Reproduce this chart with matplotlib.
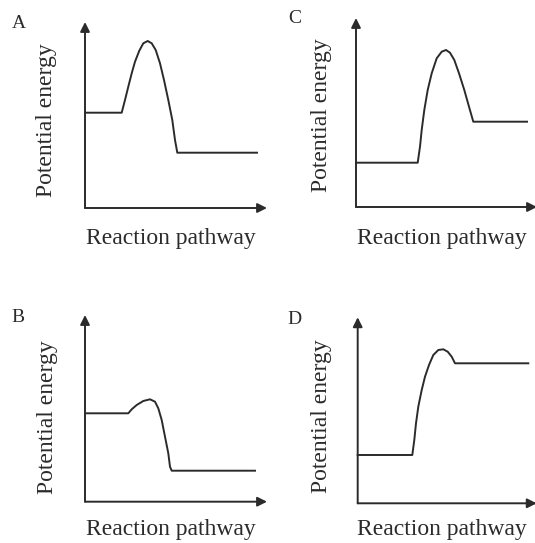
import matplotlib
matplotlib.use("Agg")
import matplotlib.pyplot as plt

# ---------------- data ----------------
panel_labels = ["A", "C", "B", "D"]
x_label = "Reaction pathway"
y_label = "Potential energy"

A_path = [0, 36.7, 40, 43.3, 46.7, 50, 54.3, 58.3, 62.7, 66.7, 70.7, 75, 79, 83.3, 87.3, 90, 92.3, 172]
A_energy = [95.3, 95.3, 108, 121.3, 134.7, 146.3, 157.3, 164.7, 167, 164.7, 158, 144.7, 128, 108, 88, 68, 55.3, 55.3]

C_path = [0, 61.7, 64, 65.7, 68.3, 71.7, 75.7, 80.7, 85.7, 90, 94, 98.3, 103, 108.3, 113, 117.3, 171]
C_energy = [44.3, 44.3, 60.3, 77, 97, 117, 133.7, 148.7, 155.3, 157, 154.3, 147, 133.7, 117, 100.3, 85.3, 85.3]

B_path = [0, 43.3, 46.7, 51.7, 58.3, 65, 70, 73.3, 76.7, 80, 83.3, 85, 86.7, 170]
B_energy = [88.4, 88.4, 92.4, 96.7, 100.7, 102.4, 100, 93.4, 81.7, 65, 48.4, 35, 31, 31]

D_path = [0, 54.6, 56.6, 58.3, 60.6, 64, 67.3, 71.3, 75.6, 80.6, 85.6, 90, 94, 97.3, 170.6]
D_energy = [48.3, 48.3, 63.3, 80, 96.6, 113.3, 126.6, 138.3, 148.3, 153.3, 154, 151.6, 146.6, 140, 140]

# ---------------- layout ----------------
W, H = 535, 543
ink = "#2b2b2b"
serif = ["Liberation Serif", "DejaVu Serif"]

fig = plt.figure(figsize=(W / 100, H / 100), dpi=100)
fig.patch.set_facecolor("white")

# (origin_x, origin_y, x_len, y_len) in pixels
geom = {
    "A": (85, 208, 182, 186),
    "C": (356, 207, 181, 189),
    "B": (85, 501.7, 182, 186.7),
    "D": (357.7, 503.3, 179, 186),
}
series = {
    "A": (A_path, A_energy),
    "C": (C_path, C_energy),
    "B": (B_path, B_energy),
    "D": (D_path, D_energy),
}
letter_pos = {"A": (19, 23), "C": (295, 18.5), "B": (18, 318), "D": (294, 320)}
ylabel_pos = {"A": (47, 120), "C": (322, 115), "B": (48, 417), "D": (322, 416)}
xlabel_pos = {"A": (171, 244), "C": (442, 244), "B": (171, 535), "D": (442, 535)}

for key in panel_labels:
    ox, oy, xl, yl = geom[key]
    ax = fig.add_axes([ox / W, 1 - oy / H, xl / W, yl / H])
    ax.set_xlim(0, xl)
    ax.set_ylim(0, yl)
    ax.axis("off")
    xs, ys = series[key]
    ax.plot(xs, ys, color=ink, lw=1.4, solid_joinstyle="round", clip_on=False)
    for end in [(1, 0), (0, 1)]:
        ax.annotate("", xy=end, xytext=(0, 0), xycoords="axes fraction",
                    textcoords="axes fraction",
                    arrowprops=dict(arrowstyle="-|>", lw=1.4, color=ink,
                                    mutation_scale=14, shrinkA=0, shrinkB=0),
                    annotation_clip=False)

    lx, ly = letter_pos[key]
    fig.text(lx / W, 1 - ly / H, key, family=serif, fontsize=14, color=ink,
             ha="center", va="center")
    yx, yy = ylabel_pos[key]
    fig.text(yx / W, 1 - yy / H, y_label, family=serif, fontsize=17, color=ink,
             ha="center", va="center", rotation=90)
    xx, xy = xlabel_pos[key]
    fig.text(xx / W, 1 - xy / H, x_label, family=serif, fontsize=17, color=ink,
             ha="center", va="baseline")

fig.savefig("out.png", dpi=100, facecolor="white")
